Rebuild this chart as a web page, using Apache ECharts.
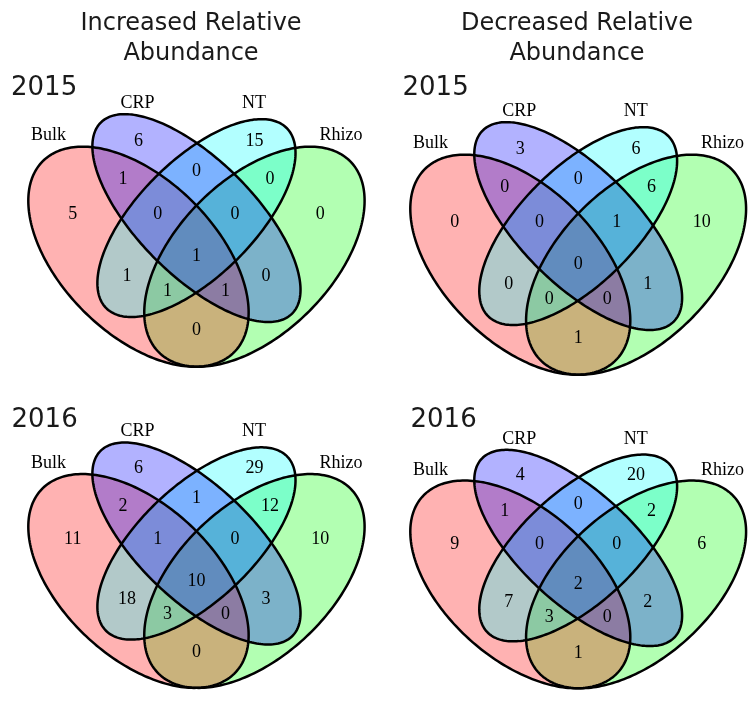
<!DOCTYPE html>
<html>
<head>
<meta charset="utf-8">
<title>Relative abundance Venn diagrams</title>
<script src="https://cdn.jsdelivr.net/npm/echarts@6/dist/echarts.min.js"></script>
<style>
  html, body { margin: 0; padding: 0; background: #ffffff; }
  #chart { width: 748px; height: 701px; }
</style>
</head>
<body>
<div id="chart"></div>
<script>
// ---- data -------------------------------------------------------------
const setNames = ['Bulk', 'CRP', 'NT', 'Rhizo'];
const columnTitles = [['Increased Relative', 'Abundance'], ['Decreased Relative', 'Abundance']];
const years = ['2015', '2016'];

// Every region of the four-set diagram, named by the sets it belongs to
const regionKeys = [
  'CRP', 'CRP+NT', 'NT',
  'Bulk+CRP', 'Bulk+CRP+NT', 'Bulk+CRP+NT+Rhizo', 'CRP+NT+Rhizo', 'NT+Rhizo',
  'Bulk', 'Bulk+NT', 'Bulk+NT+Rhizo', 'Bulk+Rhizo', 'Bulk+CRP+Rhizo', 'CRP+Rhizo', 'Rhizo'
];

// Counts per region, in regionKeys order
const increased2015 = [6, 0, 15, 1, 0, 1, 0, 0, 5, 1, 1, 0, 1, 0, 0];
const decreased2015 = [3, 0, 6, 0, 0, 0, 1, 6, 0, 0, 0, 1, 0, 1, 10];
const increased2016 = [6, 1, 29, 2, 1, 10, 0, 12, 11, 18, 3, 0, 0, 3, 10];
const decreased2016 = [4, 0, 20, 1, 0, 2, 0, 2, 9, 7, 3, 1, 0, 2, 6];

// ---- layout -----------------------------------------------------------
// Ellipses in the unit square: centre, semi-axes and tilt in degrees
const ELLIPSE = {
  Rhizo: { cx: 0.65, cy: 0.47, a: 0.35, b: 0.20, rot: 45,  fill: 'rgba(0,255,0,0.3)' },
  Bulk:  { cx: 0.35, cy: 0.47, a: 0.35, b: 0.20, rot: 135, fill: 'rgba(255,0,0,0.3)' },
  NT:    { cx: 0.50, cy: 0.57, a: 0.33, b: 0.15, rot: 45,  fill: 'rgba(0,255,255,0.3)' },
  CRP:   { cx: 0.50, cy: 0.57, a: 0.35, b: 0.15, rot: 135, fill: 'rgba(0,0,255,0.3)' }
};
const PAINT_ORDER = ['Rhizo', 'Bulk', 'NT', 'CRP'];

// Where each region's count sits inside the unit square
const REGION_ANCHOR = {
  'CRP': [0.35, 0.77], 'CRP+NT': [0.50, 0.69], 'NT': [0.65, 0.77],
  'Bulk+CRP': [0.31, 0.67], 'Bulk+CRP+NT': [0.40, 0.58], 'Bulk+CRP+NT+Rhizo': [0.50, 0.47],
  'CRP+NT+Rhizo': [0.60, 0.58], 'NT+Rhizo': [0.69, 0.67], 'Bulk': [0.18, 0.58],
  'Bulk+NT': [0.32, 0.42], 'Bulk+NT+Rhizo': [0.425, 0.38], 'Bulk+Rhizo': [0.50, 0.28],
  'Bulk+CRP+Rhizo': [0.575, 0.38], 'CRP+Rhizo': [0.68, 0.42], 'Rhizo': [0.82, 0.58]
};
// Set-name captions around each diagram
const NAME_ANCHOR = {
  Bulk: [0.117, 0.784], CRP: [0.3475, 0.868], NT: [0.649, 0.868], Rhizo: [0.874, 0.784]
};

// Pixel size of the unit square and its top-left corner for each panel
const SX = 386.5, SY = 386;
const PANELS = [
  { origin: [3.2, 52.1],   counts: increased2015, year: 0, yearPos: [11, 88.5] },
  { origin: [385.2, 60.1], counts: decreased2015, year: 0, yearPos: [402.5, 88.5] },
  { origin: [3.2, 381.1],  counts: increased2016, year: 1, yearPos: [11.5, 420] },
  { origin: [385.2, 389.1], counts: decreased2016, year: 1, yearPos: [410.5, 420] }
];
const X_RANGE = [0.05, 0.94], Y_RANGE = [0.15, 0.9];
const TITLE_CENTER_X = [191, 577];

const SERIF = '"Liberation Serif", "Times New Roman", serif';
const SANS = '"DejaVu Sans", Verdana, sans-serif';
const INK = '#000000';

function ellipseRenderer(filled) {
  return function (params, api) {
    const e = ELLIPSE[PAINT_ORDER[params.dataIndex]];
    const t = e.rot * Math.PI / 180;
    const pts = [];
    const n = 240;
    for (let k = 0; k < n; k++) {
      const p = 2 * Math.PI * k / n;
      const x = e.a * Math.cos(p), y = e.b * Math.sin(p);
      pts.push(api.coord([
        e.cx + x * Math.cos(t) - y * Math.sin(t),
        e.cy + x * Math.sin(t) + y * Math.cos(t)
      ]));
    }
    return {
      type: 'polygon',
      shape: { points: pts },
      style: filled
        ? { fill: e.fill, stroke: null }
        : { fill: 'none', stroke: '#000000', lineWidth: 2.5 }
    };
  };
}

// Plain text placed at a data coordinate of the panel
function textRenderer(params, api) {
  const p = api.coord([api.value(0), api.value(1)]);
  return {
    type: 'text',
    x: p[0], y: p[1],
    style: {
      text: String(api.value(2)),
      font: '18px ' + SERIF,
      fill: INK, align: 'center', verticalAlign: 'middle'
    }
  };
}

const grid = [], xAxis = [], yAxis = [], series = [], graphic = [];

PANELS.forEach(function (pn, i) {
  grid.push({
    left: pn.origin[0] + X_RANGE[0] * SX,
    top: pn.origin[1] + (1 - Y_RANGE[1]) * SY,
    width: (X_RANGE[1] - X_RANGE[0]) * SX,
    height: (Y_RANGE[1] - Y_RANGE[0]) * SY
  });
  xAxis.push({ gridIndex: i, type: 'value', min: X_RANGE[0], max: X_RANGE[1], show: false });
  yAxis.push({ gridIndex: i, type: 'value', min: Y_RANGE[0], max: Y_RANGE[1], show: false });

  const ellipseData = PAINT_ORDER.map(function (s) { return [ELLIPSE[s].cx, ELLIPSE[s].cy]; });

  series.push({
    type: 'custom', xAxisIndex: i, yAxisIndex: i, z: 1, clip: false, silent: true,
    renderItem: ellipseRenderer(true), data: ellipseData
  });
  series.push({
    type: 'custom', xAxisIndex: i, yAxisIndex: i, z: 2, clip: false, silent: true,
    renderItem: ellipseRenderer(false), data: ellipseData
  });
  // region counts
  series.push({
    type: 'custom', xAxisIndex: i, yAxisIndex: i, z: 3, clip: false, silent: true,
    renderItem: textRenderer,
    dimensions: ['x', 'y', 'count'],
    data: regionKeys.map(function (k, j) {
      return [REGION_ANCHOR[k][0], REGION_ANCHOR[k][1], pn.counts[j]];
    })
  });
  // set names
  series.push({
    type: 'custom', xAxisIndex: i, yAxisIndex: i, z: 3, clip: false, silent: true,
    renderItem: textRenderer,
    dimensions: ['x', 'y', { name: 'label', type: 'ordinal' }],
    data: setNames.map(function (s) {
      return [NAME_ANCHOR[s][0], NAME_ANCHOR[s][1], s];
    })
  });

  graphic.push({
    type: 'text', x: pn.yearPos[0], y: pn.yearPos[1], silent: true,
    style: { text: years[pn.year], font: '26px ' + SANS, fill: '#1a1a1a', align: 'left', verticalAlign: 'middle' }
  });
});

columnTitles.forEach(function (lines, c) {
  lines.forEach(function (line, r) {
    graphic.push({
      type: 'text', x: TITLE_CENTER_X[c], y: 24.2 + r * 30, silent: true,
      style: { text: line, font: '24px ' + SANS, fill: '#1a1a1a', align: 'center', verticalAlign: 'middle' }
    });
  });
});

const chart = echarts.init(document.getElementById('chart'), null, { renderer: 'canvas' });
chart.setOption({
  animation: false,
  backgroundColor: '#ffffff',
  grid: grid,
  xAxis: xAxis,
  yAxis: yAxis,
  series: series,
  graphic: graphic
});
</script>
</body>
</html>
